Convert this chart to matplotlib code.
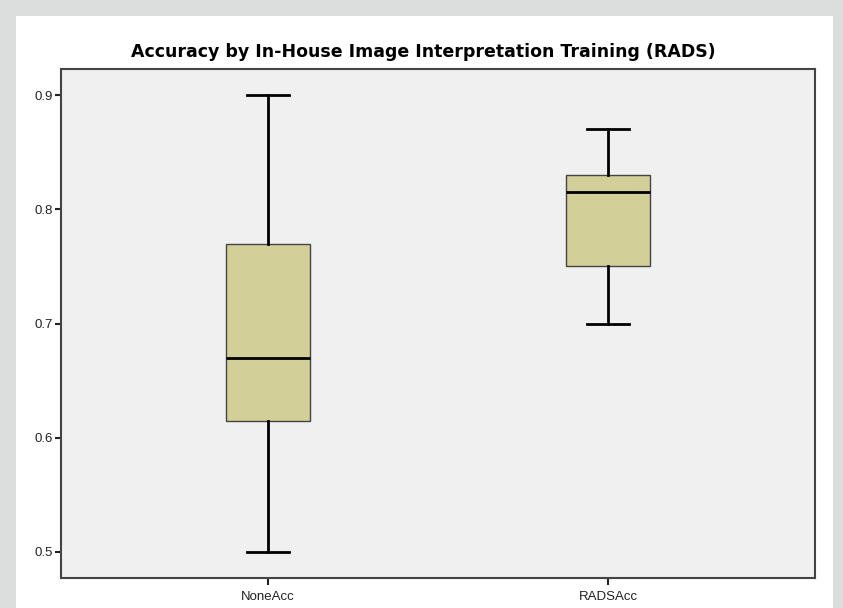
import matplotlib
matplotlib.use("Agg")
import matplotlib.pyplot as plt
from matplotlib.patches import Rectangle

# box summary values
groups = ["NoneAcc", "RADSAcc"]
mins = [0.50, 0.70]
q1s = [0.615, 0.75]
medians = [0.67, 0.815]
q3s = [0.77, 0.83]
maxs = [0.90, 0.87]
yticks = [0.5, 0.6, 0.7, 0.8, 0.9]

plt.rcParams['font.family'] = ['Liberation Sans', 'DejaVu Sans']

fig = plt.figure(figsize=(8.43, 6.08), dpi=100, facecolor='#dcdedd')
# white panel inside the grey frame
fig.patches.append(Rectangle((16/843, 0), (833-16)/843, (608-16)/608,
                             transform=fig.transFigure, facecolor='white',
                             edgecolor='none', zorder=-10))

ax = fig.add_axes([61/843, 1 - 578/608, (815-61)/843, (578-69)/608])
ax.set_facecolor('#f0f0f0')

stats = []
for i in range(len(groups)):
    stats.append(dict(label=groups[i], whislo=mins[i], q1=q1s[i], med=medians[i],
                      q3=q3s[i], whishi=maxs[i], fliers=[]))

ax.bxp(stats, positions=[1, 2], widths=0.247, showfliers=False, patch_artist=True,
       boxprops=dict(facecolor='#d3cf98', edgecolor='#444444', linewidth=1.0),
       medianprops=dict(color='black', linewidth=2.0),
       whiskerprops=dict(color='black', linewidth=2.0),
       capprops=dict(color='black', linewidth=2.0),
       capwidths=0.124)

ax.set_xlim(0.391, 2.609)
ax.set_ylim(0.4772, 0.9228)
ax.set_yticks(yticks)
ax.set_yticklabels([str(t) for t in yticks])
ax.set_xticks([1, 2])
ax.set_xticklabels(groups)
ax.tick_params(axis='both', labelsize=9.5, colors='#222222', width=1.5, length=5)
ax.tick_params(axis='x', pad=4)
ax.tick_params(axis='y', length=4, pad=2)
for sp in ax.spines.values():
    sp.set_color('#444444')
    sp.set_linewidth(1.5)

# title is centred on the page, not on the plot area
fig.text(423.5/843, 1 - 57/608,
         'Accuracy by In-House Image Interpretation Training (RADS)',
         ha='center', va='baseline', fontsize=12.55, fontweight='bold',
         family='DejaVu Sans')

fig.savefig('out.png', dpi=100, facecolor=fig.get_facecolor())
